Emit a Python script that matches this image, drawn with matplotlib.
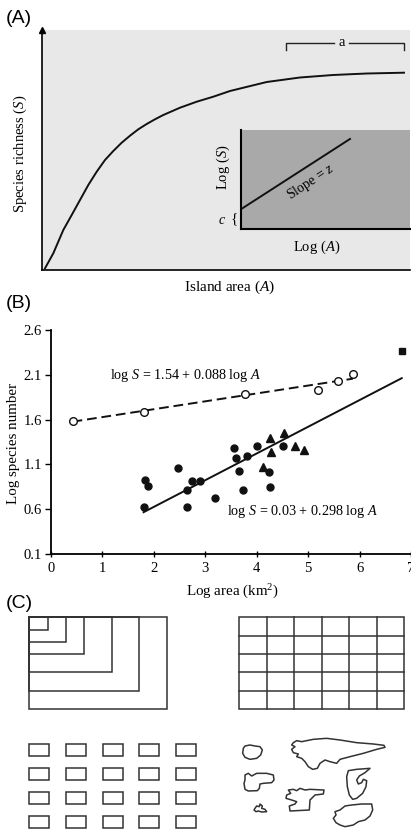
import numpy as np
import matplotlib
matplotlib.use('Agg')
import matplotlib.pyplot as plt
from matplotlib.patches import Rectangle, Polygon

plt.rcParams['font.family'] = 'Liberation Serif'
plt.rcParams['mathtext.fontset'] = 'custom'
plt.rcParams['mathtext.rm'] = 'Liberation Serif'
plt.rcParams['mathtext.it'] = 'Liberation Serif:italic'

# ---- panel A: schematic species-area curve (arbitrary units)
curve_area = [3, 11.3, 21.3, 29.7, 38, 46.3, 54.7, 63, 71.3, 79.7, 88, 96.3, 104.7, 113, 121.3,
              138, 154.7, 171.3, 188, 224.7, 258, 291, 324.7, 362]
curve_rich = [1.7, 16.7, 40, 55, 70, 85, 98.3, 110, 119, 127.3, 134.3, 140.7, 146, 150.7, 155,
              162.3, 168.3, 173.3, 179, 188, 192.5, 195, 196.5, 197.3]
inset_c = 0.2
inset_z = 1.1
inset_end = 0.645

# ---- panel B: log species number vs log area
open_logA = [0.43, 1.80, 3.77, 5.20, 5.59, 5.87]
open_logS = [1.58, 1.69, 1.89, 1.93, 2.03, 2.11]
fill_logA = [1.83, 1.89, 1.81, 2.46, 2.74, 2.90, 2.64, 2.65, 3.18, 3.55, 3.59, 3.81, 3.66, 3.74, 4.00, 4.23, 4.25, 4.51]
fill_logS = [0.93, 0.86, 0.62, 1.06, 0.92, 0.92, 0.81, 0.62, 0.72, 1.28, 1.17, 1.19, 1.03, 0.81, 1.31, 1.02, 0.85, 1.30]
tri_logA = [4.25, 4.27, 4.13, 4.53, 4.75, 4.91]
tri_logS = [1.40, 1.24, 1.07, 1.45, 1.30, 1.26]
sq_logA = [6.82]
sq_logS = [2.37]
fit_open = (1.54, 0.088, 0.42, 5.87)   # intercept, slope, x from, x to
fit_fill = (0.03, 0.298, 1.80, 6.82)
yticks_b = [0.1, 0.6, 1.1, 1.6, 2.1, 2.6]
xticks_b = [0, 1, 2, 3, 4, 5, 6, 7]

# ---- panel C: sampling schemes
nest_frac = [0.138, 0.27, 0.40, 0.60, 0.80, 1.0]
grid_cols, grid_rows = 6, 5
quad_cols, quad_rows = 5, 4
# island outlines (local drawing units, 3 units = 1 px)
islands = [
    [(40,55),(45,48),(60,45),(75,48),(90,50),(97,60),(92,75),(80,85),(60,88),(45,82),(38,70)],
    [(190,38),(200,32),(215,35),(250,28),(290,25),(330,30),(380,38),(430,42),(462,46),(465,52),(440,58),
     (400,70),(360,80),(330,88),(320,100),(300,95),(285,90),(270,100),(262,115),(248,118),(235,110),
     (225,95),(215,85),(200,80),(205,72),(190,68),(185,58),(195,50),(185,45)],
    [(45,135),(55,130),(65,138),(80,130),(110,130),(130,135),(132,150),(125,158),(100,160),(90,162),
     (88,175),(82,182),(55,183),(45,178),(42,160),(45,150)],
    [(175,180),(190,178),(200,182),(210,175),(225,180),(240,178),(282,180),(280,192),(255,195),(240,210),
     (238,240),(180,243),(178,228),(195,222),(200,215),(185,210),(168,205),(170,195),(182,190)],
    [(355,122),(380,118),(420,115),(405,128),(388,138),(380,150),(385,162),(395,158),(400,148),(410,152),
     (408,170),(398,190),(380,205),(368,208),(358,195),(352,170),(350,140)],
    [(75,235),(80,228),(88,230),(90,222),(97,228),(95,235),(105,238),(110,245),(95,246),(85,243),(78,245),(72,240)],
    [(315,245),(330,240),(345,228),(365,225),(395,222),(425,222),(428,240),(420,258),(405,270),(385,275),
     (370,285),(345,290),(330,285),(318,278),(310,265),(318,255)],
]

W, H = 411, 834
fig = plt.figure(figsize=(W / 100, H / 100), dpi=100)

def px_axes(l, t, r, b):
    return [l / W, 1 - b / H, (r - l) / W, (b - t) / H]

# ---------------- panel A
axA = fig.add_axes(px_axes(42, 30, 410, 270))
axA.set_facecolor('#e8e8e8')
axA.set_xlim(0, 368)
axA.set_ylim(0, 240)
for s in ['top', 'right']:
    axA.spines[s].set_visible(False)
axA.spines['left'].set_linewidth(1.2)
axA.spines['bottom'].set_linewidth(1.2)
axA.set_xticks([])
axA.set_yticks([])
axA.plot(0, 1, marker='^', color='black', markersize=4, transform=axA.transAxes, clip_on=False)
axA.plot(curve_area, curve_rich, color='#111111', lw=1.4, solid_joinstyle='round')

axI = fig.add_axes(px_axes(241, 130, 410, 229))
axI.set_facecolor('#a9a9a9')
axI.set_xlim(0, 1)
axI.set_ylim(0, 1)
for s in ['top', 'right']:
    axI.spines[s].set_visible(False)
axI.spines['left'].set_linewidth(1.5)
axI.spines['bottom'].set_linewidth(1.5)
axI.set_xticks([])
axI.set_yticks([])
axI.plot([0, inset_end], [inset_c, inset_c + inset_z * inset_end], color='#111111', lw=1.4)

# ---------------- panel B
axB = fig.add_axes(px_axes(51, 330, 411, 554))
axB.set_xlim(0, 7)
axB.set_ylim(0.1, 2.6)
for s in ['top', 'right']:
    axB.spines[s].set_visible(False)
axB.spines['left'].set_linewidth(1.3)
axB.spines['bottom'].set_linewidth(1.3)
axB.set_yticks(yticks_b)
axB.set_yticklabels([f'{v:.1f}' for v in yticks_b])
axB.set_xticks(xticks_b)
axB.tick_params(axis='y', direction='out', length=4, width=1, pad=2.5, labelsize=10.5)
axB.tick_params(axis='x', direction='inout', length=5, width=1, pad=3, labelsize=10.5)
axB.patch.set_alpha(0)

xo = np.array([fit_open[2], fit_open[3]])
axB.plot(xo, fit_open[0] + fit_open[1] * xo, color='#111111', lw=1.4, dashes=(5, 2.5))
xf = np.array([fit_fill[2], fit_fill[3]])
axB.plot(xf, fit_fill[0] + fit_fill[1] * xf, color='#111111', lw=1.4)
axB.plot(open_logA, open_logS, 'o', mfc='white', mec='#111111', mew=1, ms=5.5, clip_on=False)
axB.plot(fill_logA, fill_logS, 'o', color='#111111', ms=5, clip_on=False)
axB.plot(tri_logA, tri_logS, '^', color='#111111', ms=5.5, clip_on=False)
axB.plot(sq_logA, sq_logS, 's', color='#111111', ms=4.5, clip_on=False)

# overlay in pixel units for labels and panel C (on top of everything)
ov = fig.add_axes([0, 0, 1, 1])
ov.set_xlim(0, W)
ov.set_ylim(H, 0)
ov.axis('off')
ov.patch.set_alpha(0)
ov.set_zorder(10)

# panel A texts
ov.plot([286, 286, 334], [50, 43, 43], color='#222222', lw=1)
ov.plot([349, 404, 404], [43, 43, 50], color='#222222', lw=1)
ov.text(341.5, 42, 'a', ha='center', va='center', fontsize=10.5)
ov.text(311, 182, 'Slope = $z$', rotation=33.5, ha='center', va='center', fontsize=10,
        rotation_mode='anchor')
ov.text(223, 167, 'Log ($S$)', rotation=90, ha='center', va='center', fontsize=10.5)
ov.text(222, 220, '$c$', ha='center', va='center', fontsize=10)
ov.text(234, 219, '{', ha='center', va='center', fontsize=11)
ov.text(317, 247, 'Log ($A$)', ha='center', va='center', fontsize=10.5)
ov.text(20, 154, 'Species richness ($S$)', rotation=90, ha='center', va='center', fontsize=10.5)
ov.text(230, 287, 'Island area ($A$)', ha='center', va='center', fontsize=11)
ov.text(6, 18, '(A)', ha='left', va='center', fontsize=14, family='Liberation Sans')

# panel B texts
ov.text(185, 375, 'log $S$ = 1.54 + 0.088 log $A$', ha='center', va='center', fontsize=10.2)
ov.text(302, 512, 'log $S$ = 0.03 + 0.298 log $A$', ha='center', va='center', fontsize=10.2)
ov.text(13, 443, 'Log species number', rotation=90, ha='center', va='center', fontsize=10.8)
ov.text(232, 592, 'Log area (km$^2$)', ha='center', va='center', fontsize=10.8)
ov.text(6, 304, '(B)', ha='left', va='center', fontsize=14, family='Liberation Sans')
ov.text(6, 603, '(C)', ha='left', va='center', fontsize=14, family='Liberation Sans')

# ---------------- panel C
lc = '#333333'
lw_c = 1.1
# nested quadrats
nl, nt, nw, nh = 29.3, 617.3, 137.4, 91.7
for f in nest_frac:
    ov.add_patch(Rectangle((nl, nt), nw * f, nh * f, fill=False, ec=lc, lw=lw_c))
# contiguous grid
gl, gt, gw, gh = 239.3, 617.3, 164.7, 91.7
ov.add_patch(Rectangle((gl, gt), gw, gh, fill=False, ec=lc, lw=lw_c))
for i in range(1, grid_cols):
    ov.plot([gl + gw * i / grid_cols] * 2, [gt, gt + gh], color=lc, lw=lw_c)
for j in range(1, grid_rows):
    ov.plot([gl, gl + gw], [gt + gh * j / grid_rows] * 2, color=lc, lw=lw_c)
# separate quadrats
for i in range(quad_cols):
    for j in range(quad_rows):
        ov.add_patch(Rectangle((29.3 + 36.6 * i, 744.3 + 23.8 * j), 20, 12, fill=False, ec=lc, lw=lw_c))
# islands
for isl in islands:
    pts = [(230 + x / 3, 730 + y / 3) for x, y in isl]
    ov.add_patch(Polygon(pts, closed=True, fill=False, ec=lc, lw=lw_c, joinstyle='round'))

fig.savefig('out.png', dpi=100)
